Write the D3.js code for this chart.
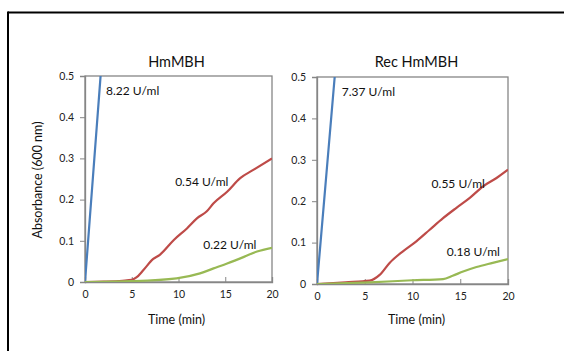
<!DOCTYPE html>
<html><head><meta charset="utf-8">
<script src="https://cdn.jsdelivr.net/npm/d3@7"></script>
<style>
body{margin:0;background:#fff;}
svg{display:block;font-family:Lato,"Open Sans",sans-serif;}
</style></head>
<body>
<svg id="c" width="564" height="351"></svg>
<script>
// ---- data ----
const panelTitles = ["HmMBH", "Rec HmMBH"];
const xTicks = [0, 5, 10, 15, 20];
const yTicks = [0, 0.1, 0.2, 0.3, 0.4, 0.5];
const yTickLabels = ["0", "0.1", "0.2", "0.3", "0.4", "0.5"];
const seriesNames = ["high", "mid", "low"];

// HmMBH panel
const hmBlue = [[0,0],[0.5,0.15],[1,0.3],[1.5,0.45],[2,0.6]];
const hmRed = [[0,0],[2,0.001],[4,0.003],[5,0.005],[5.5,0.011],[6.25,0.029],[7.3,0.056],[8,0.066],[9.5,0.102],[10.9,0.13],[12,0.155],[13,0.171],[13.75,0.191],[15.2,0.219],[16.6,0.252],[18,0.272],[20,0.3]];
const hmGreen = [[0,0],[5,0.002],[9.8,0.009],[12.3,0.021],[13.75,0.033],[15.2,0.045],[17,0.061],[18.4,0.074],[20,0.083]];
const hmLabels = ["8.22 U/ml", "0.54 U/ml", "0.22 U/ml"];
const hmLabelPos = [[2.25,0.464],[9.64,0.243],[12.64,0.090]];

// Rec HmMBH panel
const recBlue = [[0,0],[0.5,0.135],[1,0.27],[1.5,0.405],[2,0.54]];
const recRed = [[0,0],[3,0.004],[5.5,0.008],[6.56,0.022],[7.6,0.051],[9,0.079],[10.4,0.103],[11.8,0.131],[13.2,0.159],[14.6,0.184],[16,0.208],[17.4,0.236],[18.8,0.256],[20,0.276]];
const recGreen = [[0,0],[5.5,0.004],[10,0.009],[13.2,0.012],[14.2,0.02],[15.3,0.03],[16.7,0.041],[18.4,0.051],[20,0.06]];
const recLabels = ["7.37 U/ml", "0.55 U/ml", "0.18 U/ml"];
const recLabelPos = [[2.59,0.464],[12.0,0.242],[13.58,0.078]];

const colors = ["#4A7EBB", "#BE4B48", "#98B954"];

// ---- drawing ----
const svg = d3.select("#c");
// outer frame
svg.append("line").attr("x1",8).attr("x2",564).attr("y1",12.5).attr("y2",12.5).attr("stroke","#000").attr("stroke-width",2);
svg.append("line").attr("x1",8).attr("x2",8).attr("y1",11.5).attr("y2",351).attr("stroke","#000").attr("stroke-width",2);

const panels = [
  {title: panelTitles[0], series:[hmBlue, hmRed, hmGreen], labels: hmLabels, pos: hmLabelPos, x0:85, x1:272, y0:282, y1:76},
  {title: panelTitles[1], series:[recBlue, recRed, recGreen], labels: recLabels, pos: recLabelPos, x0:317, x1:508, y0:284, y1:77}
];

panels.forEach((p, i) => {
  const x = d3.scaleLinear().domain([0,20]).range([p.x0, p.x1]);
  const y = d3.scaleLinear().domain([0,0.5]).range([p.y0, p.y1]);
  const g = svg.append("g");
  const clipId = "clip" + i;
  g.append("clipPath").attr("id", clipId).append("rect")
    .attr("x", p.x0).attr("y", p.y1).attr("width", p.x1 - p.x0).attr("height", p.y0 - p.y1);

  // plot area frame
  g.append("rect").attr("x", p.x0).attr("y", p.y1).attr("width", p.x1-p.x0).attr("height", p.y0-p.y1)
    .attr("fill","none").attr("stroke","#868686").attr("stroke-width",1.3);

  // y axis
  const ya = d3.axisLeft(y).tickValues(yTicks).tickFormat((d,j)=>yTickLabels[j]).tickSize(5).tickPadding(6);
  const yg = g.append("g").attr("transform",`translate(${p.x0},0)`).call(ya);
  yg.select(".domain").attr("stroke","#868686").attr("stroke-width",1.3);
  yg.selectAll(".tick line").attr("stroke","#868686");
  yg.selectAll("text").attr("font-size",10.5).attr("fill","#222").style("font-family","Lato,'Open Sans',sans-serif");

  // x axis (ticks inside)
  const xa = d3.axisBottom(x).tickValues(xTicks).tickSize(-5).tickPadding(9);
  const xg = g.append("g").attr("transform",`translate(0,${p.y0})`).call(xa);
  xg.select(".domain").attr("stroke","#868686").attr("stroke-width",1.3);
  xg.selectAll(".tick line").attr("stroke","#868686");
  xg.selectAll("text").attr("font-size",10.5).attr("fill","#222").style("font-family","Lato,'Open Sans',sans-serif");

  // lines
  const line = d3.line().x(d=>x(d[0])).y(d=>y(d[1])).curve(d3.curveMonotoneX);
  p.series.forEach((s, k) => {
    g.append("path").datum(s).attr("d", line).attr("fill","none")
      .attr("stroke", colors[k]).attr("stroke-width", 2.2).attr("stroke-linejoin","round")
      .attr("clip-path", `url(#${clipId})`);
  });

  // labels
  p.labels.forEach((t, k) => {
    g.append("text").attr("x", x(p.pos[k][0])).attr("y", y(p.pos[k][1]))
      .attr("dominant-baseline","central").attr("font-size",12).attr("fill","#111").text(t);
  });

  // titles
  const cx = (p.x0 + p.x1) / 2 - 2 + i*6;
  g.append("text").attr("x", cx).attr("y", 61).attr("text-anchor","middle")
    .attr("dominant-baseline","central").attr("font-size",14.5).attr("fill","#111").text(p.title);
  g.append("text").attr("x", cx).attr("y", 319).attr("text-anchor","middle")
    .attr("dominant-baseline","central").attr("font-size",12.5).attr("fill","#111").text("Time (min)");
});

// y axis title
svg.append("text").attr("transform","translate(37,180) rotate(-90)").attr("text-anchor","middle")
  .attr("dominant-baseline","central").attr("font-size",12.5).attr("fill","#111").text("Absorbance (600 nm)");
</script>
</body></html>
